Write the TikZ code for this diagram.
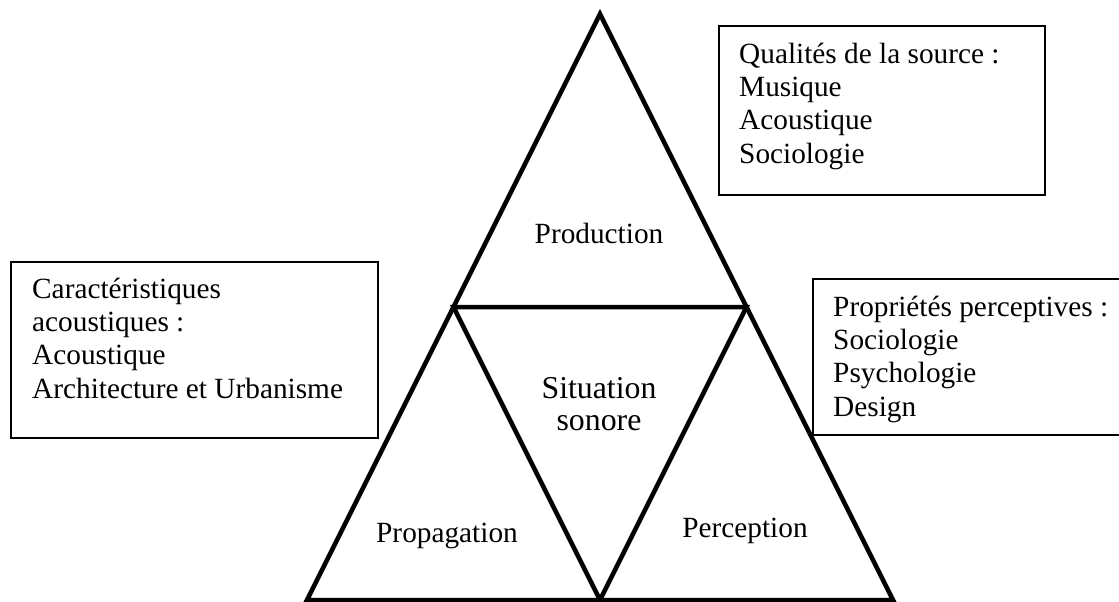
\documentclass[tikz,border=0pt]{standalone}
\usepackage{fontspec}
\setmainfont{Liberation Serif}
\begin{document}
\begin{tikzpicture}[x=1pt,y=-1pt]
    \tikzstyle{every node}+=[inner sep=0pt, font=\fontsize{29.3}{33.3}\selectfont]
    \tikzstyle{edge}=[black, line width=4.5pt, line join=miter]
    \tikzstyle{infobox}=[black, line width=1.2pt]
    \useasboundingbox (0,0) rectangle (1119,602);
    \coordinate (top) at (600,14);
    \coordinate (bl) at (307,600);
    \coordinate (br) at (893,600);
    \coordinate (ml) at (453.5,307);
    \coordinate (mr) at (746.5,307);
    \coordinate (mb) at (600,600);
    \draw [edge] (top) -- (bl) -- (br) -- cycle;
    \draw [edge] (ml) -- (mr) -- (mb) -- cycle;
    \draw (599,243) node[anchor=base] (production) {Production};
    \draw (599,430) node[anchor=base, align=center, font=\fontsize{31.8}{32}\selectfont] (situation) {Situation\\sonore};
    \draw (447,542) node[anchor=base] (propagation) {Propagation};
    \draw (745,537) node[anchor=base] (perception) {Perception};
    \draw [infobox] (719,26) rectangle (1045,195);
    \draw (739,163) node[anchor=base west, align=left] (source) {Qualités de la source :\\Musique\\Acoustique\\Sociologie};
    \draw [infobox] (11,262) rectangle (378,438);
    \draw (32,398) node[anchor=base west, align=left] (acoustic) {Caractéristiques\\acoustiques :\\Acoustique\\Architecture et Urbanisme};
    \draw [infobox] (813,279) rectangle (1130,435);
    \draw (833,416) node[anchor=base west, align=left] (perceptive) {Propriétés perceptives :\\Sociologie\\Psychologie\\Design};
\end{tikzpicture}
\end{document}
